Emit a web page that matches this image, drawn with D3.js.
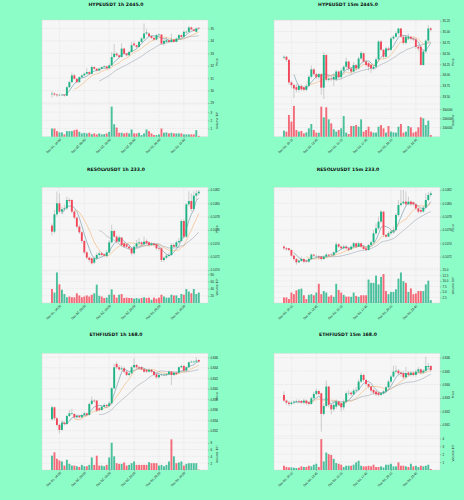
<!DOCTYPE html>
<html>
<head>
<meta charset="utf-8">
<script src="https://cdn.jsdelivr.net/npm/d3@7"></script>
<style>
  body { margin: 0; background: #8dfdc8; }
  svg { display: block; font-family: "DejaVu Sans", sans-serif; }
</style>
</head>
<body>
<svg id="chart" width="464" height="500"></svg>
<script>
'use strict';

// candles are [open, high, low, close]
const hype1h = [
  [29.70,29.95,29.45,29.75],[29.76,29.85,29.55,29.68],[29.68,29.75,29.50,29.62],[29.62,29.75,29.55,29.65],[29.65,29.72,29.58,29.66],
  [29.66,29.70,29.52,29.60],[29.59,30.35,29.55,30.27],[30.27,30.80,30.20,30.68],[30.68,31.45,30.60,31.22],[31.22,31.35,30.90,30.95],
  [30.95,31.00,30.55,30.68],[30.68,31.15,30.62,31.08],[31.08,31.30,31.00,31.22],[31.22,31.45,31.15,31.35],[31.35,31.80,31.30,31.49],
  [31.49,31.55,31.25,31.35],[31.35,32.00,31.30,31.89],[31.89,31.95,31.70,31.76],[31.76,31.80,31.55,31.62],[31.62,31.85,31.55,31.76],
  [31.76,31.95,31.70,31.89],[31.89,32.05,31.82,31.95],[31.95,32.00,31.72,31.80],[31.80,32.15,31.75,32.03],[32.03,33.10,31.98,32.70],
  [32.70,33.75,32.60,32.97],[32.97,33.10,32.75,32.84],[32.84,32.90,32.60,32.70],[32.70,33.80,32.65,33.38],[33.38,33.45,32.90,32.97],
  [32.97,33.05,32.75,32.84],[32.84,33.20,32.80,33.11],[33.11,33.90,33.05,33.65],[33.78,33.95,33.55,33.65],[33.65,33.70,33.40,33.51],
  [33.51,34.00,33.45,33.92],[33.92,34.30,33.85,34.19],[34.19,35.40,34.10,34.59],[34.59,34.95,34.50,34.68],[34.59,34.70,34.30,34.38],
  [34.38,34.45,34.15,34.24],[34.24,34.30,34.00,34.11],[34.11,34.55,34.05,34.46],[34.46,34.60,34.40,34.51],[34.51,34.55,33.70,33.78],
  [33.78,34.10,33.60,34.00],[33.92,34.30,33.85,34.05],[34.05,34.10,33.85,33.92],[33.92,34.59,33.85,34.11],[34.11,34.15,33.85,33.92],
  [33.92,34.25,33.88,34.19],[34.19,34.55,34.15,34.46],[34.46,34.50,34.25,34.32],[34.32,34.85,34.28,34.73],[34.68,34.85,34.60,34.73],
  [34.73,35.20,34.70,35.08],[35.08,35.15,34.85,34.92],[34.92,34.98,34.75,34.81],[34.73,35.10,34.70,35.00],[35.05,35.10,34.95,35.00]
];
const hype1hVol = [
  1.0,1.0,0.68,0.52,0.52,0.28,0.68,0.68,0.68,0.8,
  0.88,0.6,0.4,0.48,0.4,0.48,0.32,0.4,0.28,0.4,
  0.28,0.32,0.4,0.6,3.68,1.52,1.12,0.48,0.48,0.4,
  0.48,0.4,0.88,0.4,0.4,0.48,0.2,0.4,0.88,0.68,
  0.4,0.2,0.2,0.28,1.0,0.48,0.52,0.4,0.48,0.4,
  0.4,0.4,0.4,0.28,0.28,0.28,0.28,0.28,0.8,0.1
];

const hype15m = [
  [34.40,34.45,34.36,34.42],[34.42,34.44,34.30,34.35],[34.35,34.36,33.78,33.83],[33.83,33.86,33.70,33.77],[33.77,33.80,33.47,33.69],
  [33.72,33.80,33.60,33.66],[33.66,33.78,33.60,33.75],[33.75,33.78,33.63,33.67],[33.72,33.75,33.62,33.66],[33.66,33.80,33.63,33.75],
  [33.75,34.00,33.72,33.96],[33.96,34.22,33.92,34.13],[34.13,34.16,33.98,34.02],[34.02,34.05,33.90,33.95],[33.95,34.05,33.90,34.02],
  [34.02,34.05,33.55,33.71],[33.71,34.52,33.45,34.46],[34.46,34.48,33.85,33.89],[33.89,34.00,33.85,33.92],[33.92,33.98,33.86,33.90],
  [33.90,34.02,33.75,33.96],[33.90,34.12,33.86,34.08],[34.08,34.10,33.92,33.95],[33.95,34.15,33.90,34.10],[34.10,34.22,34.05,34.19],
  [34.19,34.40,34.15,34.31],[34.31,34.33,34.10,34.15],[34.15,34.18,34.02,34.08],[34.08,34.30,34.05,34.23],[34.23,34.25,34.10,34.15],
  [34.15,34.42,34.12,34.38],[34.38,34.55,34.35,34.51],[34.50,34.52,34.28,34.31],[34.31,34.35,34.20,34.23],[34.27,34.30,34.10,34.19],
  [34.23,34.25,34.05,34.15],[34.15,34.22,34.12,34.19],[34.19,34.40,34.15,34.36],[34.36,34.80,34.33,34.77],[34.77,34.80,34.55,34.58],
  [34.58,34.60,34.38,34.42],[34.42,34.65,34.40,34.61],[34.61,34.65,34.55,34.58],[34.58,34.88,34.55,34.84],[34.84,34.92,34.80,34.88],
  [34.88,35.00,34.85,34.96],[34.96,35.08,34.93,35.07],[35.07,35.08,34.85,34.88],[34.88,34.92,34.70,34.74],[34.74,34.92,34.70,34.88],
  [34.84,34.95,34.80,34.88],[34.88,34.90,34.80,34.84],[34.84,34.87,34.78,34.82],[34.82,34.85,34.60,34.65],[34.65,34.68,34.55,34.61],
  [34.65,34.68,34.22,34.23],[34.23,34.58,34.22,34.54],[34.54,34.82,34.50,34.79],[34.79,35.15,34.75,35.07],[35.07,35.10,35.00,35.04]
];
const hype15mVol = [
  65000,55000,236000,164000,335000,73000,55000,62000,36000,47000,
  91000,138000,73000,44000,44000,327000,211000,320000,189000,145000,
  80000,55000,73000,91000,225000,44000,29000,116000,116000,127000,
  109000,189000,55000,73000,109000,55000,44000,44000,109000,127000,
  91000,44000,116000,55000,47000,44000,109000,138000,44000,55000,
  116000,102000,44000,55000,102000,211000,200000,127000,175000,18000
];

const resolv1h = [
  [0.107665,0.107700,0.107520,0.107575],[0.107575,0.107900,0.107550,0.107835],[0.107835,0.108180,0.107800,0.108000],[0.108000,0.108150,0.107850,0.107875],[0.107875,0.107950,0.107840,0.107910],
  [0.107910,0.107980,0.107880,0.107925],[0.107925,0.108100,0.107900,0.108050],[0.108050,0.108080,0.108000,0.108035],[0.108050,0.108060,0.107850,0.107875],[0.107875,0.107900,0.107760,0.107785],
  [0.107785,0.107800,0.107620,0.107650],[0.107650,0.107680,0.107540,0.107565],[0.107565,0.107580,0.107400,0.107435],[0.107435,0.107450,0.107240,0.107265],[0.107265,0.107280,0.107160,0.107185],
  [0.107185,0.107200,0.107120,0.107150],[0.107175,0.107190,0.107080,0.107100],[0.107110,0.107200,0.107090,0.107175],[0.107175,0.107260,0.107150,0.107225],[0.107225,0.107280,0.107200,0.107250],
  [0.107250,0.107270,0.107200,0.107225],[0.107235,0.107250,0.107190,0.107215],[0.107210,0.107300,0.107190,0.107265],[0.107265,0.107450,0.107250,0.107415],[0.107415,0.107680,0.107400,0.107585],
  [0.107585,0.107600,0.107480,0.107500],[0.107500,0.107520,0.107400,0.107425],[0.107425,0.107520,0.107410,0.107485],[0.107485,0.107500,0.107350,0.107375],[0.107400,0.107420,0.107330,0.107350],
  [0.107385,0.107400,0.107320,0.107350],[0.107350,0.107370,0.107300,0.107325],[0.107325,0.107340,0.107220,0.107250],[0.107250,0.107370,0.107230,0.107350],[0.107350,0.107450,0.107330,0.107400],
  [0.107400,0.107480,0.107380,0.107415],[0.107415,0.107430,0.107360,0.107385],[0.107385,0.107500,0.107370,0.107425],[0.107435,0.107460,0.107380,0.107400],[0.107415,0.107430,0.107350,0.107375],
  [0.107375,0.107420,0.107360,0.107395],[0.107395,0.107410,0.107350,0.107375],[0.107385,0.107400,0.107300,0.107325],[0.107330,0.107350,0.107290,0.107320],[0.107325,0.107340,0.107120,0.107150],
  [0.107150,0.107200,0.107120,0.107185],[0.107185,0.107240,0.107160,0.107215],[0.107210,0.107260,0.107190,0.107225],[0.107225,0.107400,0.107210,0.107375],[0.107375,0.107400,0.107330,0.107350],
  [0.107350,0.107440,0.107330,0.107415],[0.107415,0.107480,0.107400,0.107435],[0.107435,0.107760,0.107420,0.107735],[0.107735,0.107760,0.107480,0.107500],[0.107500,0.108000,0.107480,0.107985],
  [0.107985,0.108180,0.107950,0.108035],[0.108035,0.108150,0.107880,0.107915],[0.107915,0.108180,0.107880,0.108115],[0.108115,0.108200,0.108050,0.108150],[0.108150,0.108200,0.108120,0.108175]
];
const resolv1hVol = [
  39,29,85,52,37,25,16,18,16,16,
  27,21,16,18,21,18,23,27,51,20,
  18,14,15,23,38,23,15,23,25,14,
  15,14,14,12,14,12,14,16,14,15,
  9,15,12,15,23,18,15,15,23,21,
  21,14,25,23,39,32,27,39,25,29
];

const resolv15m = [
  [0.107350,0.107370,0.107300,0.107325],[0.107325,0.107340,0.107290,0.107310],[0.107325,0.107330,0.107280,0.107300],[0.107300,0.107310,0.107200,0.107215],[0.107215,0.107230,0.107140,0.107165],
  [0.107165,0.107180,0.107080,0.107115],[0.107115,0.107160,0.107100,0.107140],[0.107135,0.107200,0.107120,0.107165],[0.107165,0.107180,0.107100,0.107125],[0.107140,0.107160,0.107110,0.107125],
  [0.107125,0.107180,0.107110,0.107165],[0.107165,0.107250,0.107150,0.107230],[0.107230,0.107240,0.107190,0.107215],[0.107200,0.107230,0.107180,0.107205],[0.107200,0.107220,0.107160,0.107185],
  [0.107200,0.107210,0.107140,0.107165],[0.107165,0.107220,0.107150,0.107200],[0.107200,0.107250,0.107190,0.107230],[0.107230,0.107240,0.107200,0.107215],[0.107230,0.107250,0.107210,0.107225],
  [0.107225,0.107280,0.107210,0.107265],[0.107265,0.107420,0.107250,0.107385],[0.107385,0.107400,0.107330,0.107350],[0.107350,0.107360,0.107300,0.107325],[0.107325,0.107380,0.107310,0.107350],
  [0.107350,0.107370,0.107310,0.107325],[0.107325,0.107340,0.107280,0.107300],[0.107310,0.107370,0.107300,0.107350],[0.107350,0.107420,0.107330,0.107400],[0.107400,0.107410,0.107330,0.107350],
  [0.107350,0.107420,0.107340,0.107400],[0.107400,0.107410,0.107330,0.107350],[0.107350,0.107370,0.107300,0.107315],[0.107325,0.107340,0.107280,0.107300],[0.107300,0.107390,0.107290,0.107375],
  [0.107375,0.107440,0.107360,0.107415],[0.107415,0.107600,0.107400,0.107550],[0.107550,0.107700,0.107530,0.107625],[0.107625,0.107800,0.107600,0.107725],[0.107725,0.107900,0.107700,0.107875],
  [0.107875,0.107880,0.107500,0.107525],[0.107525,0.107540,0.107480,0.107500],[0.107500,0.107580,0.107490,0.107550],[0.107550,0.107600,0.107530,0.107575],[0.107575,0.107650,0.107560,0.107600],
  [0.107600,0.107850,0.107580,0.107825],[0.107825,0.108050,0.107800,0.107975],[0.107975,0.108200,0.107950,0.108000],[0.108000,0.108200,0.107980,0.108025],[0.108025,0.108180,0.107960,0.107985],
  [0.107985,0.108100,0.107970,0.108025],[0.108025,0.108040,0.107960,0.107985],[0.108015,0.108030,0.107960,0.107985],[0.107985,0.108000,0.107900,0.107925],[0.107925,0.107940,0.107850,0.107875],
  [0.107900,0.107920,0.107850,0.107875],[0.107875,0.107960,0.107860,0.107935],[0.107935,0.108150,0.107920,0.108050],[0.108050,0.108170,0.108030,0.108125],[0.108125,0.108180,0.108100,0.108150]
];
const resolv15mVol = [
  2.5,2.5,1.8,4.7,4.0,5.7,6.2,6.5,3.5,1.8,
  3.7,4.0,3.5,4.7,8.7,4.0,5.4,4.7,2.9,3.5,
  2.8,8.7,5.9,4.7,3.7,2.9,2.9,2.8,4.7,3.2,
  2.8,3.5,3.5,3.5,10.6,9.1,9.1,12.4,8.4,11.8,
  13.1,5.4,4.0,5.0,5.0,6.2,11.0,13.8,9.9,9.1,
  5.0,6.6,4.0,4.3,5.4,5.4,5.4,8.4,10.1,1.3
];

const ethfi1h = [
  [0.83419,0.83680,0.83400,0.83648],[0.83648,0.83660,0.83400,0.83438],[0.83438,0.83460,0.83280,0.83311],[0.83311,0.83330,0.83150,0.83216],[0.83216,0.83380,0.83200,0.83355],
  [0.83355,0.83380,0.83300,0.83330],[0.83330,0.83500,0.83310,0.83482],[0.83482,0.83600,0.83460,0.83533],[0.83520,0.83620,0.83500,0.83533],[0.83520,0.83540,0.83430,0.83457],
  [0.83457,0.83500,0.83430,0.83482],[0.83482,0.83500,0.83440,0.83457],[0.83457,0.83520,0.83440,0.83501],[0.83501,0.83560,0.83480,0.83533],[0.83533,0.83550,0.83480,0.83501],
  [0.83501,0.83740,0.83490,0.83711],[0.83711,0.83850,0.83690,0.83775],[0.83775,0.83800,0.83740,0.83762],[0.83775,0.83790,0.83560,0.83584],[0.83628,0.83650,0.83570,0.83597],
  [0.83597,0.83680,0.83580,0.83660],[0.83660,0.83720,0.83640,0.83692],[0.83692,0.83710,0.83650,0.83673],[0.83673,0.83760,0.83660,0.83724],[0.83724,0.84030,0.83700,0.84010],
  [0.84010,0.84480,0.83990,0.84410],[0.84473,0.84520,0.84380,0.84410],[0.84410,0.84450,0.84340,0.84371],[0.84371,0.84440,0.84350,0.84390],[0.84390,0.84420,0.84300,0.84327],
  [0.84327,0.84350,0.84240,0.84263],[0.84263,0.84320,0.84240,0.84295],[0.84295,0.84440,0.84280,0.84410],[0.84410,0.84580,0.84390,0.84454],[0.84454,0.84470,0.84380,0.84410],
  [0.84410,0.84430,0.84370,0.84390],[0.84410,0.84430,0.84350,0.84371],[0.84371,0.84390,0.84300,0.84327],[0.84359,0.84380,0.84300,0.84327],[0.84327,0.84390,0.84310,0.84359],
  [0.84359,0.84380,0.84300,0.84327],[0.84327,0.84340,0.84240,0.84263],[0.84276,0.84290,0.84190,0.84219],[0.84219,0.84280,0.84200,0.84263],[0.84263,0.84290,0.84240,0.84270],
  [0.84263,0.84290,0.84240,0.84270],[0.84263,0.84300,0.84250,0.84276],[0.84276,0.84350,0.84260,0.84327],[0.84327,0.84340,0.84073,0.84263],[0.84263,0.84330,0.84240,0.84308],
  [0.84308,0.84320,0.84260,0.84283],[0.84308,0.84430,0.84290,0.84410],[0.84410,0.84460,0.84390,0.84435],[0.84435,0.84450,0.84330,0.84346],[0.84346,0.84430,0.84330,0.84410],
  [0.84410,0.84520,0.84400,0.84505],[0.84505,0.84540,0.84490,0.84517],[0.84505,0.84540,0.84490,0.84517],[0.84517,0.84600,0.84500,0.84537],[0.84549,0.84560,0.84500,0.84517]
];
const ethfi1hVol = [
  4.2,5.2,3.3,2.8,2.5,1.3,3.0,1.8,1.3,1.3,
  1.1,0.9,1.5,1.1,1.1,1.5,3.7,1.5,4.2,1.3,
  1.3,1.1,1.5,3.7,8.0,4.0,2.0,1.8,1.8,2.2,
  1.3,1.5,2.0,2.5,1.5,1.5,1.5,1.5,1.5,2.3,
  2.0,2.0,2.0,1.3,1.5,1.1,1.5,2.5,9.0,4.0,
  2.0,2.2,2.5,1.3,1.8,2.0,2.0,2.0,2.0,0.1
];

const ethfi15m = [
  [0.84323,0.84350,0.84270,0.84281],[0.84281,0.84290,0.84250,0.84266],[0.84266,0.84280,0.84240,0.84256],[0.84256,0.84280,0.84245,0.84266],[0.84266,0.84285,0.84255,0.84273],
  [0.84273,0.84290,0.84265,0.84278],[0.84278,0.84290,0.84260,0.84273],[0.84278,0.84285,0.84255,0.84266],[0.84266,0.84295,0.84255,0.84281],[0.84281,0.84290,0.84250,0.84261],
  [0.84266,0.84275,0.84245,0.84256],[0.84256,0.84310,0.84250,0.84298],[0.84298,0.84345,0.84290,0.84330],[0.84330,0.84370,0.84320,0.84352],[0.84352,0.84360,0.84320,0.84330],
  [0.84335,0.84340,0.84051,0.84182],[0.84182,0.84260,0.84170,0.84241],[0.84241,0.84430,0.84230,0.84385],[0.84385,0.84390,0.84230,0.84249],[0.84249,0.84260,0.84180,0.84216],
  [0.84216,0.84270,0.84200,0.84249],[0.84236,0.84290,0.84220,0.84273],[0.84273,0.84280,0.84240,0.84249],[0.84261,0.84270,0.84200,0.84231],[0.84231,0.84290,0.84210,0.84273],
  [0.84273,0.84350,0.84260,0.84335],[0.84335,0.84360,0.84320,0.84338],[0.84340,0.84350,0.84315,0.84328],[0.84328,0.84370,0.84320,0.84355],[0.84355,0.84380,0.84345,0.84360],
  [0.84360,0.84440,0.84350,0.84422],[0.84422,0.84490,0.84410,0.84471],[0.84471,0.84480,0.84420,0.84434],[0.84434,0.84440,0.84390,0.84404],[0.84404,0.84410,0.84370,0.84385],
  [0.84385,0.84395,0.84340,0.84355],[0.84360,0.84370,0.84325,0.84340],[0.84348,0.84355,0.84315,0.84328],[0.84340,0.84345,0.84310,0.84323],[0.84323,0.84345,0.84315,0.84335],
  [0.84335,0.84360,0.84325,0.84348],[0.84348,0.84390,0.84340,0.84380],[0.84380,0.84435,0.84370,0.84422],[0.84422,0.84470,0.84410,0.84459],[0.84459,0.84540,0.84450,0.84496],
  [0.84496,0.84540,0.84480,0.84503],[0.84503,0.84515,0.84470,0.84484],[0.84489,0.84500,0.84460,0.84479],[0.84484,0.84500,0.84440,0.84454],[0.84454,0.84530,0.84445,0.84484],
  [0.84489,0.84500,0.84460,0.84472],[0.84472,0.84500,0.84460,0.84489],[0.84489,0.84500,0.84460,0.84472],[0.84472,0.84510,0.84460,0.84496],[0.84496,0.84530,0.84485,0.84513],
  [0.84513,0.84520,0.84475,0.84489],[0.84489,0.84515,0.84480,0.84503],[0.84503,0.84607,0.84490,0.84538],[0.84530,0.84560,0.84520,0.84538],[0.84538,0.84545,0.84495,0.84508]
];
const ethfi15mVol = [
  0.54,0.38,0.33,0.33,0.29,0.25,0.29,0.46,0.38,0.38,
  0.54,0.46,0.67,0.79,0.38,3.9,1.08,2.2,2.0,1.9,
  1.4,0.88,0.79,0.67,0.38,0.54,0.54,0.54,0.67,0.96,
  1.17,0.54,0.46,0.46,0.54,0.46,0.67,0.38,0.38,0.46,
  0.33,0.67,0.67,0.79,0.46,0.46,0.96,0.54,0.54,0.46,
  0.38,0.79,0.46,0.54,0.38,0.54,0.46,0.54,0.67,0.13
];

const labels1h = ['Dec 01, 14:00', 'Dec 02, 00:00', 'Dec 02, 10:00', 'Dec 02, 20:00', 'Dec 03, 06:00', 'Dec 03, 16:00'];
const labels15m = ['Dec 03, 10:15', 'Dec 03, 12:45', 'Dec 03, 15:15', 'Dec 03, 17:45', 'Dec 03, 20:15', 'Dec 03, 22:45'];
const labelIndex = [3, 13, 23, 33, 43, 53];

const panels = [
  {title: 'HYPEUSDT 1h 2445.0', candles: hype1h, vol: hype1hVol, labels: labels1h,
   yDomain: [28.92, 35.68], vDomain: [0, 4.0], split: 104,
   priceTicks: [29, 30, 31, 32, 33, 34, 35], fmt: d3.format('d'),
   volTicks: [1, 2, 3], vfmt: d3.format('d'), volLabel: 'Volume  10\u2075'},
  {title: 'HYPEUSDT 15m 2445.0', candles: hype15m, vol: hype15mVol, labels: labels15m,
   yDomain: [33.334, 35.265], vDomain: [0, 356000], split: 104,
   priceTicks: [33.5, 33.75, 34, 34.25, 34.5, 34.75, 35, 35.25], fmt: d3.format('.2f'),
   volTicks: [100000, 200000, 300000], vfmt: d3.format('d'), volLabel: 'Volume'},
  {title: 'RESOLVUSDT 1h 233.0', candles: resolv1h, vol: resolv1hVol, labels: labels1h,
   yDomain: [0.106985, 0.10824], vDomain: [0, 89], split: 106,
   priceTicks: [0.1070, 0.1072, 0.1074, 0.1076, 0.1078, 0.1080, 0.1082], fmt: d3.format('.4f'),
   volTicks: [20, 40, 60, 80], vfmt: d3.format('d'), volLabel: 'Volume  10\u2076'},
  {title: 'RESOLVUSDT 15m 233.0', candles: resolv15m, vol: resolv15mVol, labels: labels15m,
   yDomain: [0.107025, 0.10824], vDomain: [0, 15.7], split: 103.3,
   priceTicks: [0.1072, 0.1074, 0.1076, 0.1078, 0.1080, 0.1082], fmt: d3.format('.4f'),
   volTicks: [2.5, 5, 7.5, 10, 12.5, 15], vfmt: d3.format('.1f'), volLabel: 'Volume  10\u2075'},
  {title: 'ETHFIUSDT 1h 168.0', candles: ethfi1h, vol: ethfi1hVol, labels: labels1h,
   yDomain: [0.83057, 0.84676], vDomain: [0, 9.3], split: 108.3,
   priceTicks: [0.832, 0.834, 0.836, 0.838, 0.840, 0.842, 0.844, 0.846], fmt: d3.format('.3f'),
   volTicks: [2, 4, 6, 8], vfmt: d3.format('d'), volLabel: 'Volume  10\u2075'},
  {title: 'ETHFIUSDT 15m 168.0', candles: ethfi15m, vol: ethfi15mVol, labels: labels15m,
   yDomain: [0.84018, 0.84632], vDomain: [0, 4.3], split: 106,
   priceTicks: [0.841, 0.842, 0.843, 0.844, 0.845, 0.846], fmt: d3.format('.3f'),
   volTicks: [1, 2, 3, 4], vfmt: d3.format('d'), volLabel: 'Volume  10\u2076'}
];

const colW = 232;
const rows = [
  {y: 0, top: 20, bottom: 136.7},
  {y: 165, top: 22.3, bottom: 138},
  {y: 330, top: 23.3, bottom: 140}
];
const plotLeft = 42;
const plotRight = 208;
const upColor = '#1fb386';
const downColor = '#f2485a';
const wickColor = '#8f8f8f';
const maPeriods = [5, 10, 20];
const maColors = ['#4d7f95', '#f2a65a', '#8f9ba6'];
const bodyW = 1.9;

const svg = d3.select('#chart');

function movingAverage(candles, n) {
  const out = [];
  for (let i = n - 1; i < candles.length; i++) {
    let s = 0;
    for (let j = i - n + 1; j <= i; j++) s += candles[j][3];
    out.push({i: i, v: s / n});
  }
  return out;
}

panels.forEach((p, k) => {
  const col = k % 2;
  const row = rows[Math.floor(k / 2)];
  const g = svg.append('g').attr('transform', `translate(${col * colW},${row.y})`);

  const x = d3.scaleLinear().domain([-4, 62.7]).range([plotLeft, plotRight]);
  const y = d3.scaleLinear().domain(p.yDomain).range([p.split, row.top]);
  const yv = d3.scaleLinear().domain(p.vDomain).range([row.bottom, p.split]);

  g.append('text')
    .attr('x', 116).attr('y', 6.4)
    .attr('text-anchor', 'middle')
    .attr('font-size', 4.6).attr('font-weight', 'bold')
    .attr('fill', '#111')
    .text(p.title);

  // panel backgrounds
  g.append('rect')
    .attr('x', plotLeft).attr('y', row.top)
    .attr('width', plotRight - plotLeft).attr('height', row.bottom - row.top)
    .attr('fill', '#f6f6f6').attr('stroke', '#d4d4d4').attr('stroke-width', 0.4);
  g.append('line')
    .attr('x1', plotLeft).attr('x2', plotRight)
    .attr('y1', p.split).attr('y2', p.split)
    .attr('stroke', '#e4e4e4').attr('stroke-width', 0.4);

  // grid
  const grid = g.append('g')
    .attr('stroke', '#d9d9d9').attr('stroke-width', 0.4).attr('stroke-dasharray', '1.5,1');
  grid.selectAll('.hg').data(p.priceTicks).join('line')
    .attr('x1', plotLeft).attr('x2', plotRight)
    .attr('y1', d => y(d)).attr('y2', d => y(d));
  grid.selectAll('.vg').data(p.volTicks).join('line')
    .attr('x1', plotLeft).attr('x2', plotRight)
    .attr('y1', d => yv(d)).attr('y2', d => yv(d));
  grid.selectAll('.xg').data(labelIndex).join('line')
    .attr('x1', d => x(d)).attr('x2', d => x(d))
    .attr('y1', row.top).attr('y2', row.bottom);

  // volume bars
  g.append('g').selectAll('rect').data(p.vol).join('rect')
    .attr('x', (d, i) => x(i) - bodyW / 2)
    .attr('width', bodyW)
    .attr('y', d => yv(d))
    .attr('height', d => row.bottom - yv(d))
    .attr('fill', (d, i) => p.candles[i][3] >= p.candles[i][0] ? upColor : downColor)
    .attr('opacity', 0.8);

  // moving averages
  maPeriods.forEach((n, m) => {
    g.append('path')
      .datum(movingAverage(p.candles, n))
      .attr('fill', 'none')
      .attr('stroke', maColors[m])
      .attr('stroke-width', 0.5)
      .attr('d', d3.line().x(d => x(d.i)).y(d => y(d.v)));
  });

  // candles
  const cg = g.append('g').selectAll('g').data(p.candles).join('g');
  cg.append('line')
    .attr('x1', (d, i) => x(i)).attr('x2', (d, i) => x(i))
    .attr('y1', d => y(Math.max(d[1], d[0], d[3])))
    .attr('y2', d => y(Math.min(d[2], d[0], d[3])))
    .attr('stroke', wickColor).attr('stroke-width', 0.4);
  cg.append('rect')
    .attr('x', (d, i) => x(i) - bodyW / 2)
    .attr('width', bodyW)
    .attr('y', d => y(Math.max(d[0], d[3])))
    .attr('height', d => Math.max(0.4, Math.abs(y(d[0]) - y(d[3]))))
    .attr('fill', d => d[3] >= d[0] ? upColor : downColor);

  // right axes
  const styleAxis = sel => {
    sel.select('.domain').remove();
    sel.selectAll('.tick line').attr('stroke', '#666').attr('stroke-width', 0.35);
    sel.selectAll('.tick text').attr('font-size', 3).attr('fill', '#222');
  };
  g.append('g')
    .attr('transform', `translate(${plotRight},0)`)
    .call(d3.axisRight(y).tickValues(p.priceTicks).tickFormat(p.fmt).tickSize(1.3).tickPadding(1.2))
    .call(styleAxis);
  g.append('g')
    .attr('transform', `translate(${plotRight},0)`)
    .call(d3.axisRight(yv).tickValues(p.volTicks).tickFormat(p.vfmt).tickSize(1.3).tickPadding(1.2))
    .call(styleAxis);

  const labelX = plotRight + (col ? 14 : 10);
  g.append('text')
    .attr('transform', `translate(${labelX},${(row.top + p.split) / 2}) rotate(-90)`)
    .attr('text-anchor', 'middle').attr('font-size', 3).attr('fill', '#222')
    .text('Price');
  g.append('text')
    .attr('transform', `translate(${labelX},${(p.split + row.bottom) / 2}) rotate(-90)`)
    .attr('text-anchor', 'middle').attr('font-size', 3).attr('fill', '#222')
    .text(p.volLabel);

  // bottom axis with rotated dates
  const xa = g.append('g')
    .attr('transform', `translate(0,${row.bottom})`)
    .call(d3.axisBottom(x).tickValues(labelIndex).tickFormat((d, i) => p.labels[i]).tickSize(1.3));
  xa.select('.domain').remove();
  xa.selectAll('.tick line').attr('stroke', '#666').attr('stroke-width', 0.35);
  xa.selectAll('.tick text')
    .attr('font-size', 3.1).attr('fill', '#222')
    .attr('x', 0).attr('y', 0).attr('dy', 0)
    .attr('text-anchor', 'end')
    .attr('transform', 'translate(1.2,3.2) rotate(-45)');
});
</script>
</body>
</html>
